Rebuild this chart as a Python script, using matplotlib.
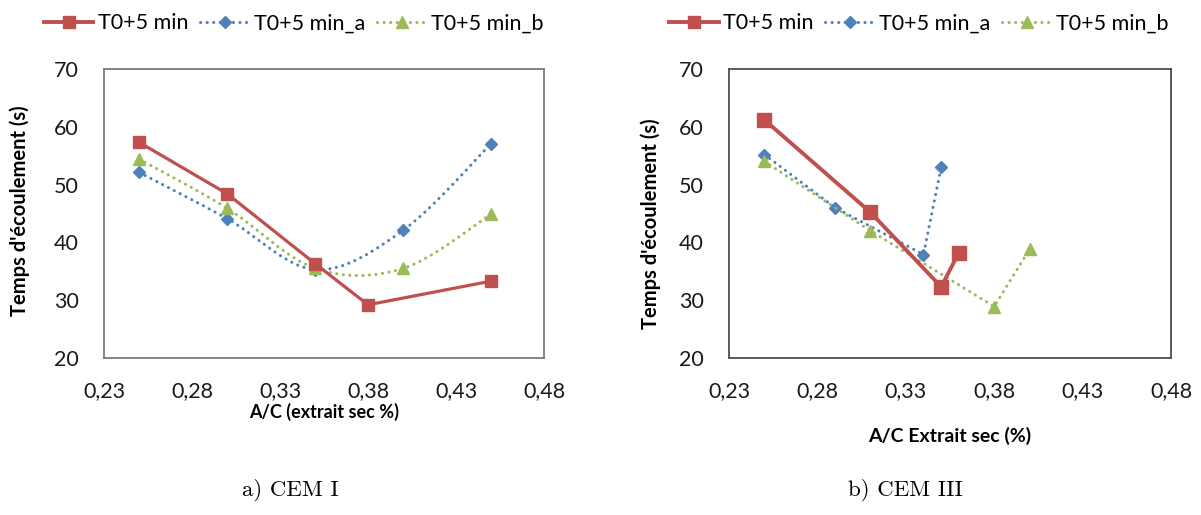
import matplotlib
matplotlib.use('Agg')
import matplotlib.pyplot as plt
import matplotlib.lines as mlines
from matplotlib.path import Path
from matplotlib.patches import PathPatch

# CEM I
x1_main = [0.25, 0.30, 0.35, 0.38, 0.45]
y1_main = [57.3, 48.4, 36.3, 29.2, 33.3]
x1_a = [0.25, 0.30, 0.35, 0.40, 0.45]
y1_a = [52.1, 44.1, 35.3, 42.1, 57.1]
x1_b = [0.25, 0.30, 0.35, 0.40, 0.45]
y1_b = [54.4, 45.9, 35.5, 35.5, 44.9]

# CEM III
x3_main = [0.25, 0.31, 0.35, 0.36]
y3_main = [61.2, 45.2, 32.3, 38.2]
x3_a = [0.25, 0.29, 0.34, 0.35]
y3_a = [55.2, 46.0, 37.9, 53.0]
x3_b = [0.25, 0.31, 0.38, 0.40]
y3_b = [54.0, 42.0, 28.9, 38.8]

series_names = ['T0+5 min', 'T0+5 min_a', 'T0+5 min_b']
xticks = [0.23, 0.28, 0.33, 0.38, 0.43, 0.48]
yticks = [20, 30, 40, 50, 60, 70]
captions = ['a) CEM I', 'b) CEM III']
xlabels = ['A/C (extrait sec %)', 'A/C Extrait sec (%)']
ylabel = "Temps d'écoulement (s)"

RED = '#C0504D'
BLUE = '#4F81BD'
GREEN = '#9BBB59'
DOTS = (0, (0.05, 2.1))

plt.rcParams['font.family'] = ['Lato', 'DejaVu Sans']


def smooth_path(xs, ys):
    # excel style smoothed line: catmull-rom turned into cubic bezier segments
    pts = list(zip(xs, ys))
    verts = [pts[0]]
    codes = [Path.MOVETO]
    n = len(pts)
    for i in range(n - 1):
        p0 = pts[max(i - 1, 0)]
        p1 = pts[i]
        p2 = pts[i + 1]
        p3 = pts[min(i + 2, n - 1)]
        c1 = (p1[0] + (p2[0] - p0[0]) / 6, p1[1] + (p2[1] - p0[1]) / 6)
        c2 = (p2[0] - (p3[0] - p1[0]) / 6, p2[1] - (p3[1] - p1[1]) / 6)
        verts += [c1, c2, p2]
        codes += [Path.CURVE4] * 3
    return Path(verts, codes)


def style_axes(ax, edge):
    ax.set_xlim(xticks[0], xticks[-1])
    ax.set_ylim(yticks[0], yticks[-1])
    ax.set_xticks(xticks)
    ax.set_xticklabels([f'{t:.2f}'.replace('.', ',') for t in xticks])
    ax.set_yticks(yticks)
    ax.set_yticklabels([str(t) for t in yticks])
    ax.tick_params(axis='both', length=0, labelsize=15.5, colors='#1a1a1a')
    ax.tick_params(axis='x', pad=17)
    ax.tick_params(axis='y', pad=18)
    for s in ax.spines.values():
        s.set_color(edge)
        s.set_linewidth(1.3)


fig = plt.figure(figsize=(12.01, 5.15), dpi=100)
ax1 = fig.add_axes([0.0866, 0.3049, 0.3664, 0.5612])
ax2 = fig.add_axes([0.6070, 0.3049, 0.3680, 0.5612])

# left panel
ax1.plot(x1_main, y1_main, color=RED, lw=2.3, marker='s', ms=8.5, zorder=3)
ax1.add_patch(PathPatch(smooth_path(x1_a, y1_a), fill=False, edgecolor=BLUE, lw=2.2,
                        linestyle=DOTS, capstyle='round', zorder=2))
ax1.add_patch(PathPatch(smooth_path(x1_b, y1_b), fill=False, edgecolor=GREEN, lw=2.2,
                        linestyle=DOTS, capstyle='round', zorder=2))
ax1.plot(x1_a, y1_a, ls='none', color=BLUE, marker='D', ms=6.5, zorder=2)
ax1.plot(x1_b, y1_b, ls='none', color=GREEN, marker='^', ms=8.5, zorder=2)
style_axes(ax1, '#7a7a7a')

# right panel
ax2.plot(x3_main, y3_main, color=RED, lw=2.8, marker='s', ms=10.5, zorder=3)
ax2.plot(x3_a, y3_a, color=BLUE, lw=2.2, ls=DOTS, dash_capstyle='round',
         marker='D', ms=6.5, zorder=2)
ax2.plot(x3_b, y3_b, color=GREEN, lw=2.2, ls=DOTS, dash_capstyle='round',
         marker='^', ms=8.5, zorder=2)
style_axes(ax2, '#4d4d4d')

leg_handles = [
    mlines.Line2D([], [], color=RED, lw=2.8, marker='s', ms=9),
    mlines.Line2D([], [], color=BLUE, lw=2.2, ls=DOTS, dash_capstyle='round', marker='D', ms=6),
    mlines.Line2D([], [], color=GREEN, lw=2.2, ls=DOTS, dash_capstyle='round', marker='^', ms=8),
]
for cx in (0.2444, 0.765):
    fig.legend(leg_handles, series_names, loc='center', bbox_to_anchor=(cx, 0.955), ncol=3,
               frameon=False, fontsize=15.5, handlelength=2.3, handletextpad=0.2,
               columnspacing=0.55, borderaxespad=0, borderpad=0)

ax1.set_xlabel(xlabels[0], fontsize=13, fontweight='bold', labelpad=1)
ax2.set_xlabel(xlabels[1], fontsize=14, fontweight='bold', labelpad=18)
fig.text(20 / 1201, 1 - 211 / 515, ylabel, rotation=90, ha='center', va='center',
         fontsize=14.5, fontweight='bold')
fig.text(651 / 1201, 1 - 224 / 515, ylabel, rotation=90, ha='center', va='center',
         fontsize=14.5, fontweight='bold')

fig.text(290 / 1201, 1 - 490 / 515, captions[0], ha='center', va='center',
         fontsize=16.5, family='cmr10')
fig.text(905 / 1201, 1 - 490 / 515, captions[1], ha='center', va='center',
         fontsize=16.5, family='cmr10')

fig.savefig('out.png', dpi=100)
